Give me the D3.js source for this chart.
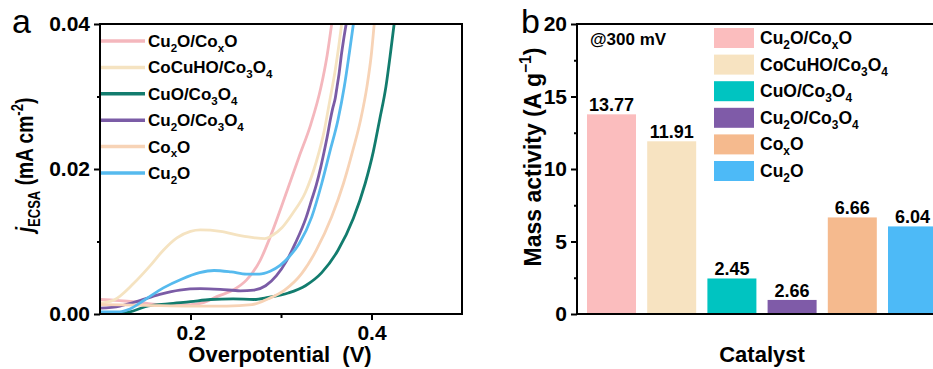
<!DOCTYPE html>
<html>
<head>
<meta charset="utf-8">
<script src="https://cdn.jsdelivr.net/npm/d3@7"></script>
<style>
  body { margin: 0; background: #fff; }
  svg { display: block; font-family: Arial, "Liberation Sans", sans-serif; }
</style>
</head>
<body>
<svg id="chart" width="933" height="369"></svg>
<script>
// ---- data: panel a, LSV curves [overpotential (V), j (mA cm-2)] ----
const cu2oCoxO = [[0.100,0.0020],[0.137,0.0017],[0.166,0.0013],[0.200,0.0013],[0.215,0.0016],[0.229,0.0024],
  [0.247,0.0033],[0.262,0.0047],[0.277,0.0074],[0.288,0.0106],[0.307,0.0171],[0.320,0.0217],[0.333,0.0262],
  [0.344,0.0312],[0.351,0.0357],[0.356,0.0400]];
const cocuhoCo3o4 = [[0.100,0.0015],[0.115,0.0019],[0.137,0.0042],[0.155,0.0066],[0.170,0.0088],[0.185,0.0105],
  [0.200,0.0114],[0.211,0.0116],[0.233,0.0114],[0.255,0.0108],[0.271,0.0105],[0.282,0.0104],[0.291,0.0109],
  [0.301,0.0119],[0.313,0.0139],[0.327,0.0168],[0.339,0.0210],[0.348,0.0254],[0.354,0.0295],[0.360,0.0337],
  [0.364,0.0371],[0.367,0.0400]];
const cuoCo3o4 = [[0.100,0.0000],[0.122,0.0001],[0.133,0.0003],[0.150,0.0010],[0.175,0.0014],[0.200,0.0017],
  [0.222,0.0020],[0.247,0.0021],[0.270,0.0020],[0.286,0.0023],[0.308,0.0029],[0.327,0.0039],[0.345,0.0057],
  [0.363,0.0088],[0.380,0.0132],[0.393,0.0180],[0.402,0.0224],[0.409,0.0268],[0.416,0.0314],[0.421,0.0360],
  [0.425,0.0400]];
const cu2oCo3o4 = [[0.100,0.0008],[0.122,0.0011],[0.140,0.0017],[0.166,0.0027],[0.188,0.0033],[0.211,0.0035],
  [0.233,0.0034],[0.255,0.0032],[0.270,0.0033],[0.283,0.0039],[0.295,0.0053],[0.306,0.0073],[0.316,0.0098],
  [0.328,0.0134],[0.334,0.0158],[0.339,0.0178],[0.344,0.0203],[0.348,0.0226],[0.351,0.0244],[0.3545,0.0268],
  [0.357,0.0283],[0.360,0.0298],[0.362,0.0314],[0.364,0.0330],[0.367,0.0360],[0.369,0.0377],[0.372,0.0400]];
const coxO = [[0.100,0.0013],[0.150,0.0012],[0.200,0.0011],[0.240,0.0011],[0.268,0.0013],[0.286,0.0021],
  [0.304,0.0033],[0.323,0.0056],[0.339,0.0088],[0.356,0.0134],[0.369,0.0180],[0.379,0.0224],[0.388,0.0268],
  [0.395,0.0314],[0.400,0.0360],[0.403,0.0400]];
const cu2o = [[0.100,0.0003],[0.122,0.0003],[0.133,0.0007],[0.150,0.0020],[0.170,0.0036],[0.190,0.0048],
  [0.210,0.0057],[0.226,0.0060],[0.245,0.0058],[0.262,0.0055],[0.276,0.0055],[0.288,0.0059],[0.299,0.0067],
  [0.309,0.0079],[0.320,0.0097],[0.334,0.0134],[0.345,0.0180],[0.354,0.0224],[0.363,0.0268],[0.370,0.0314],
  [0.3755,0.0360],[0.380,0.0400]];

const lineNames = ["Cu_{2}O/Co_{x}O", "CoCuHO/Co_{3}O_{4}", "CuO/Co_{3}O_{4}", "Cu_{2}O/Co_{3}O_{4}", "Co_{x}O", "Cu_{2}O"];
const lineColors = ["#f4b7bd", "#f5e3c1", "#127c6e", "#7b5ca6", "#f7d3b6", "#56baee"];
const lineSeries = [cu2oCoxO, cocuhoCo3o4, cuoCo3o4, cu2oCo3o4, coxO, cu2o];

// ---- data: panel b, mass activity @300 mV ----
const catalysts = ["Cu_{2}O/Co_{x}O", "CoCuHO/Co_{3}O_{4}", "CuO/Co_{3}O_{4}", "Cu_{2}O/Co_{3}O_{4}", "Co_{x}O", "Cu_{2}O"];
const massActivity = [13.77, 11.91, 2.45, 0.97, 6.66, 6.04];
const barLabels = ["13.77", "11.91", "2.45", "2.66", "6.66", "6.04"];
const barColors = ["#fbbdbe", "#f7e3c1", "#00c4c1", "#7f5ba8", "#f5ba8e", "#4dbaf7"];

const ticksA_x = [0.2, 0.4], minorA_x = [0.3];
const ticksA_y = [0, 0.02, 0.04], minorA_y = [0.01, 0.03];
const ticksB_y = [0, 5, 10, 15, 20], minorB_y = [2.5, 7.5, 12.5, 17.5];

const svg = d3.select("#chart");

// writes "Cu_{2}O" style strings as tspans with sub/superscripts
function rich(text, str, size) {
  const parts = str.split(/(_\{[^}]*\}|\^\{[^}]*\})/).filter(s => s.length);
  let shift = 0;
  parts.forEach(p => {
    let d = 0, fs = size, t = p;
    if (p[0] === "_") { t = p.slice(2, -1); d = size * 0.28; fs = size * 0.68; }
    else if (p[0] === "^") { t = p.slice(2, -1); d = -size * 0.42; fs = size * 0.68; }
    text.append("tspan").attr("dy", d - shift).attr("font-size", fs).text(t);
    shift = d;
  });
  return text;
}

function styleAxis(g, size) {
  g.select(".domain").remove();
  g.selectAll(".tick line").attr("stroke", "#000").attr("stroke-width", 2);
  g.selectAll(".tick text").attr("fill", "#000").attr("font-size", size).attr("font-weight", "bold");
}

// ================= panel a =================
const A = { left: 100, right: 462, top: 24, bottom: 314 };
const x = d3.scaleLinear().domain([0.1, 0.5]).range([A.left, A.right]);
const y = d3.scaleLinear().domain([0, 0.04]).range([A.bottom, A.top]);

svg.append("clipPath").attr("id", "clipA")
  .append("rect").attr("x", A.left).attr("y", A.top)
  .attr("width", A.right - A.left).attr("height", A.bottom - A.top);

const line = d3.line().x(d => x(d[0])).y(d => y(d[1])).curve(d3.curveMonotoneX);

svg.append("g").attr("clip-path", "url(#clipA)")
  .selectAll("path")
  .data(lineSeries)
  .join("path")
  .attr("d", line)
  .attr("fill", "none")
  .attr("stroke", (d, i) => lineColors[i])
  .attr("stroke-width", 2.8)
  .attr("stroke-linejoin", "round");

svg.append("g")
  .attr("transform", `translate(0,${A.bottom})`)
  .call(d3.axisBottom(x).tickValues(ticksA_x).tickFormat(d3.format(".1f")).tickSize(6).tickPadding(5))
  .call(g => styleAxis(g, 21));
svg.append("g")
  .attr("transform", `translate(0,${A.bottom})`)
  .call(d3.axisBottom(x).tickValues(minorA_x).tickFormat("").tickSize(4))
  .call(g => styleAxis(g, 21));
svg.append("g")
  .attr("transform", `translate(${A.left},0)`)
  .call(d3.axisLeft(y).tickValues(ticksA_y).tickFormat(d3.format(".2f")).tickSize(6).tickPadding(4))
  .call(g => styleAxis(g, 21));
svg.append("g")
  .attr("transform", `translate(${A.left},0)`)
  .call(d3.axisLeft(y).tickValues(minorA_y).tickFormat("").tickSize(3))
  .call(g => styleAxis(g, 21));

svg.append("rect")
  .attr("x", A.left).attr("y", A.top)
  .attr("width", A.right - A.left).attr("height", A.bottom - A.top)
  .attr("fill", "none").attr("stroke", "#000").attr("stroke-width", 2);

// legend a
const legA = svg.append("g");
lineNames.forEach((name, i) => {
  const cy = 41 + i * 26.4;
  legA.append("line")
    .attr("x1", A.left + 1).attr("x2", 145).attr("y1", cy).attr("y2", cy)
    .attr("stroke", lineColors[i]).attr("stroke-width", 3.5);
  rich(legA.append("text").attr("x", 148).attr("y", cy + 6)
    .attr("font-size", 17).attr("font-weight", "bold"), name, 17);
});

// titles a
svg.append("text").attr("x", 280).attr("y", 362)
  .attr("text-anchor", "middle").attr("font-size", 22).attr("font-weight", "bold")
  .text("Overpotential\u00a0 (V)");

const ytA = svg.append("text")
  .attr("transform", "translate(33,165) rotate(-90) scale(0.8,1)")
  .attr("text-anchor", "middle").attr("font-size", 24).attr("font-weight", "bold");
ytA.append("tspan").attr("font-style", "italic").text("j");
rich(ytA, "_{ECSA} (mA cm^{-2})", 24);

svg.append("text").attr("x", 12).attr("y", 33).attr("font-size", 34).text("a");

// ================= panel b =================
const B = { left: 577, right: 947, top: 24, bottom: 314 };
const xb = d3.scaleBand().domain(catalysts).range([B.left, B.right])
  .paddingInner(0.186).paddingOuter(0.166);
const yb = d3.scaleLinear().domain([0, 20]).range([B.bottom, B.top]);

svg.append("g")
  .selectAll("rect")
  .data(massActivity)
  .join("rect")
  .attr("x", (d, i) => xb(catalysts[i]))
  .attr("y", d => yb(d))
  .attr("width", xb.bandwidth())
  .attr("height", d => yb(0) - yb(d))
  .attr("fill", (d, i) => barColors[i]);

svg.append("g")
  .selectAll("text")
  .data(massActivity)
  .join("text")
  .attr("x", (d, i) => xb(catalysts[i]) + xb.bandwidth() / 2)
  .attr("y", d => yb(d) - 3)
  .attr("text-anchor", "middle")
  .attr("font-size", 18).attr("font-weight", "bold")
  .text((d, i) => barLabels[i]);

svg.append("g")
  .attr("transform", `translate(${B.left},0)`)
  .call(d3.axisLeft(yb).tickValues(ticksB_y).tickSize(6).tickPadding(4))
  .call(g => styleAxis(g, 21));
svg.append("g")
  .attr("transform", `translate(${B.left},0)`)
  .call(d3.axisLeft(yb).tickValues(minorB_y).tickFormat("").tickSize(3))
  .call(g => styleAxis(g, 21));

svg.append("rect")
  .attr("x", B.left).attr("y", B.top)
  .attr("width", B.right - B.left).attr("height", B.bottom - B.top)
  .attr("fill", "none").attr("stroke", "#000").attr("stroke-width", 2);

svg.append("text").attr("x", 590).attr("y", 45)
  .attr("font-size", 17).attr("font-weight", "bold").text("@300 mV");

// legend b
const legB = svg.append("g");
catalysts.forEach((name, i) => {
  const top = 28 + i * 26.6;
  legB.append("rect")
    .attr("x", 714).attr("y", top).attr("width", 40).attr("height", 20)
    .attr("fill", barColors[i]);
  rich(legB.append("text").attr("x", 760).attr("y", top + 16)
    .attr("font-size", 17.5).attr("font-weight", "bold"), name, 17.5);
});

svg.append("text").attr("x", 762).attr("y", 362)
  .attr("text-anchor", "middle").attr("font-size", 22).attr("font-weight", "bold")
  .text("Catalyst");

const ytB = svg.append("text")
  .attr("transform", "translate(541,157) rotate(-90)")
  .attr("text-anchor", "middle").attr("font-size", 23).attr("font-weight", "bold");
rich(ytB, "Mass activity (A g^{\u22121})", 23);

svg.append("text").attr("x", 521).attr("y", 33).attr("font-size", 34).text("b");
</script>
</body>
</html>
